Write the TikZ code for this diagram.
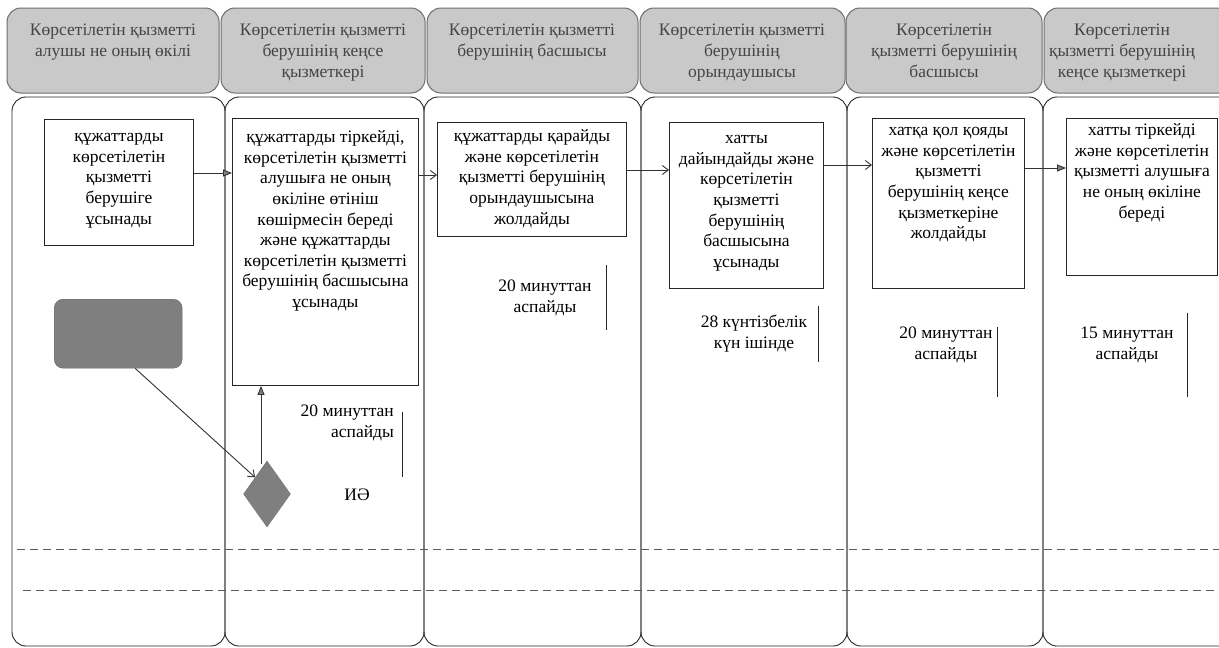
\documentclass[tikz,border=0pt]{standalone}
\usepackage{fontspec}
\setmainfont{Liberation Serif}
\usetikzlibrary{arrows.meta,calc,shapes.geometric}
\definecolor{hdrfill}{HTML}{C9C9C9}
\definecolor{hdrline}{HTML}{6E6E6E}
\definecolor{hdrtext}{HTML}{454545}
\definecolor{shapefill}{HTML}{7F7F7F}
\begin{document}
\begin{tikzpicture}[x=1pt,y=-1pt,
  hdr/.style={draw=hdrline, fill=hdrfill, rounded corners=14pt, line width=1pt},
  lane/.style={draw=black!85, rounded corners=14pt, line width=0.9pt},
  hdrtxt/.style={text=hdrtext, align=center, font=\fontsize{17.5}{20.8}\selectfont, inner sep=0pt, anchor=north},
  stepbox/.style={draw=black!85, line width=0.9pt, inner sep=0pt, anchor=north west},
  boxtxt/.style={align=center, font=\fontsize{17.5}{20.6}\selectfont, inner sep=0pt, anchor=north},
  note/.style={align=center, font=\fontsize{17.5}{21}\selectfont, inner sep=0pt},
  flow/.style={draw=black!80, line width=0.9pt},
  tri/.style={flow, -{Triangle[length=9pt,width=7pt,fill=gray]}},
  barb/.style={flow, -{Straight Barb[length=6pt,width=9pt]}},
  dashline/.style={draw=black!65, line width=1pt, dash pattern=on 8pt off 5pt},
  bar/.style={draw=black!85, line width=0.9pt}
]
\useasboundingbox (0,0) rectangle (1219,648);
\fill[white] (0,0) rectangle (1219,648);

% lanes
\draw[lane] (12,97) rectangle (225,646);
\draw[lane] (225,97) rectangle (424,646);
\draw[lane] (424,97) rectangle (641,646);
\draw[lane] (641,97) rectangle (847,646);
\draw[lane] (847,97) rectangle (1043,646);
\draw[lane] (1043,97) rectangle (1245,646);

% headers
\draw[hdr] (7,8) rectangle (219,93);
\draw[hdr] (221,8) rectangle (425,93);
\draw[hdr] (427,8) rectangle (638,93);
\draw[hdr] (640,8) rectangle (845,93);
\draw[hdr] (846,8) rectangle (1042,93);
\draw[hdr] (1044,8) rectangle (1245,93);

\node[hdrtxt] (h1) at (113,21) {\strut Көрсетілетін қызметті\\алушы не оның өкілі};
\node[hdrtxt] (h2) at (323,21) {\strut Көрсетілетін қызметті\\берушінің кеңсе\\қызметкері};
\node[hdrtxt] (h3) at (532,21) {\strut Көрсетілетін қызметті\\берушінің басшысы};
\node[hdrtxt] (h4) at (742,21) {\strut Көрсетілетін қызметті\\берушінің\\орындаушысы};
\node[hdrtxt] (h5) at (944,21) {\strut Көрсетілетін\\қызметті берушінің\\басшысы};
\node[hdrtxt] (h6) at (1122,21) {\strut Көрсетілетін\\қызметті берушінің\\кеңсе қызметкері};

% dashed lines
\draw[dashline] (17,549) -- (1219,549);
\draw[dashline] (23,590) -- (1219,590);

% step boxes
\node[stepbox, minimum width=149pt, minimum height=126pt] (b1) at (44,119) {};
\node[stepbox, minimum width=186pt, minimum height=267pt] (b2) at (232,118) {};
\node[stepbox, minimum width=189pt, minimum height=114pt] (b3) at (437,122) {};
\node[stepbox, minimum width=154pt, minimum height=166pt] (b4) at (669,122) {};
\node[stepbox, minimum width=152pt, minimum height=170pt] (b5) at (872,118) {};
\node[stepbox, minimum width=151pt, minimum height=157pt] (b6) at (1066,118) {};

\node[boxtxt] (t1) at ($(b1.north)+(0,8)$) {\strut құжаттарды\\көрсетілетін\\қызметті\\берушіге\\ұсынады};
\node[boxtxt] (t2) at ($(b2.north)+(0,10)$) {\strut құжаттарды тіркейді,\\көрсетілетін қызметті\\алушыға не оның\\өкіліне өтініш\\көшірмесін береді\\және құжаттарды\\көрсетілетін қызметті\\берушінің басшысына\\ұсынады};
\node[boxtxt] (t3) at ($(b3.north)+(0,5)$) {\strut құжаттарды қарайды\\және көрсетілетін\\қызметті берушінің\\орындаушысына\\жолдайды};
\node[boxtxt] (t4) at ($(b4.north)+(0,7)$) {\strut хатты\\дайындайды және\\көрсетілетін\\қызметті\\берушінің\\басшысына\\ұсынады};
\node[boxtxt] (t5) at ($(b5.north)+(0,3)$) {\strut хатқа қол қояды\\және көрсетілетін\\қызметті\\берушінің кеңсе\\қызметкеріне\\жолдайды};
\node[boxtxt] (t6) at ($(b6.north)+(0,3)$) {\strut хатты тіркейді\\және көрсетілетін\\қызметті алушыға\\не оның өкіліне\\береді};

% start shape and decision
\node[draw=black!60, fill=shapefill, rounded corners=9pt, minimum width=128pt, minimum height=69pt, inner sep=0pt, anchor=north west] (st) at (54,299) {};
\node[diamond, draw=black!55, fill=shapefill, minimum width=47pt, minimum height=66pt, inner sep=0pt] (dm) at (267,494) {};

% arrow levels
\coordinate (y1) at (0,173);
\coordinate (y2) at (0,175);
\coordinate (y3) at (0,170);
\coordinate (y4) at (0,165);
\coordinate (y5) at (0,168);

\draw[tri] (b1.east |- y1) -- (b2.west |- y1);
\draw[barb] (b2.east |- y2) -- (b3.west |- y2);
\draw[barb] (b3.east |- y3) -- (b4.west |- y3);
\draw[barb] (b4.east |- y4) -- (b5.west |- y4);
\draw[tri] (b5.east |- y5) -- (b6.west |- y5);

\draw[barb] ([xshift=17pt]st.south) -- (dm.north west);
\draw[tri] ([xshift=-6pt,yshift=-3pt]dm.north) coordinate (up) -- (up |- b2.south);

% notes
\node[note, align=right, anchor=east] (n2) at (394,423) {\strut 20 минуттан\\аспайды\strut};
\node[note] (n3) at (545,298) {\strut 20 минуттан\\аспайды\strut};
\node[note] (n4) at (754,334) {\strut 28 күнтізбелік\\күн ішінде\strut};
\node[note] (n5) at (946,345) {\strut 20 минуттан\\аспайды\strut};
\node[note] (n6) at (1127,345) {\strut 15 минуттан\\аспайды\strut};
\node[note] (io) at (357,495) {ИӘ};

\draw[bar] (402,412) -- (402,477);
\draw[bar] (606,265) -- (606,330);
\draw[bar] (818,306) -- (818,362);
\draw[bar] (997,327) -- (997,397);
\draw[bar] (1187,313) -- (1187,397);
\end{tikzpicture}
\end{document}
